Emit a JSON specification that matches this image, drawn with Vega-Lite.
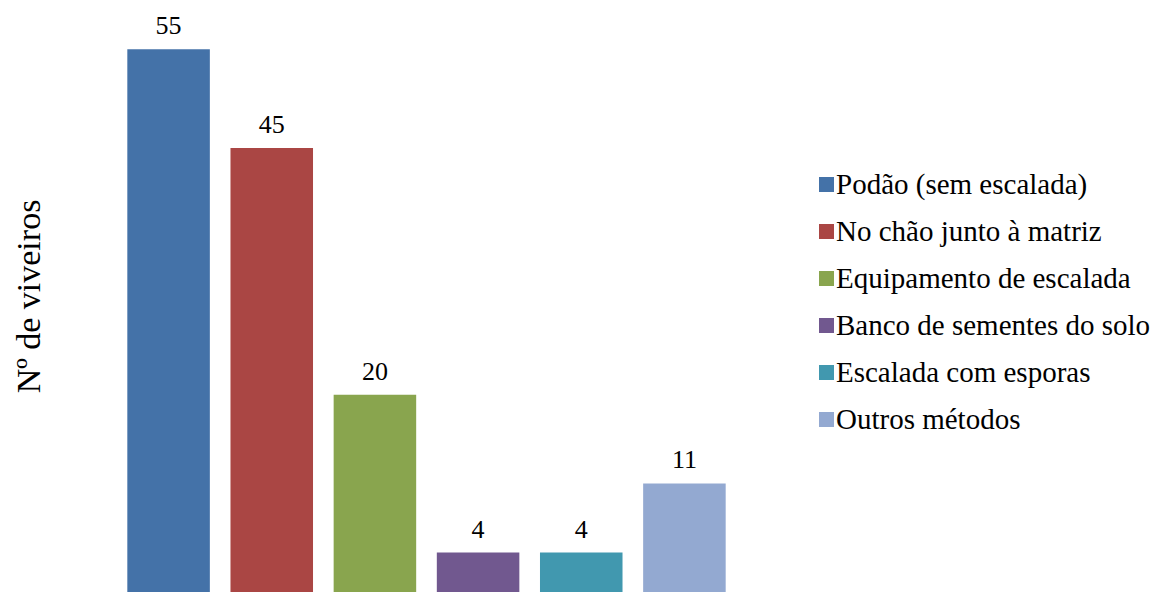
{
  "$schema": "https://vega.github.io/schema/vega-lite/v6.json",
  "width": 619,
  "height": 592,
  "autosize": {"type": "none"},
  "padding": {"left": 117, "top": 0, "right": 421, "bottom": 0},
  "background": "white",
  "config": {"view": {"stroke": null}, "font": "Liberation Serif, Times New Roman, serif"},
  "data": {
    "values": [
      {"metodo": "Podão (sem escalada)", "n": 55},
      {"metodo": "No chão junto à matriz", "n": 45},
      {"metodo": "Equipamento de escalada", "n": 20},
      {"metodo": "Banco de sementes  do solo", "n": 4},
      {"metodo": "Escalada com esporas", "n": 4},
      {"metodo": "Outros métodos", "n": 11}
    ]
  },
  "encoding": {
    "x": {
      "field": "metodo",
      "type": "nominal",
      "sort": null,
      "axis": null,
      "scale": {"paddingInner": 0.2, "paddingOuter": 0.1}
    },
    "y": {
      "field": "n",
      "type": "quantitative",
      "scale": {"domain": [0, 60], "nice": false},
      "axis": {
        "title": "Nº de viveiros",
        "grid": false,
        "domain": false,
        "ticks": false,
        "labels": false,
        "titleFont": "Liberation Serif, Times New Roman, serif",
        "titleFontSize": 34,
        "titleFontWeight": "normal",
        "titleColor": "#000000",
        "titleAngle": 270,
        "titleAlign": "center",
        "titleBaseline": "middle",
        "titleX": -88,
        "titleY": 296
      }
    }
  },
  "layer": [
    {
      "mark": {"type": "bar"},
      "encoding": {
        "color": {
          "field": "metodo",
          "type": "nominal",
          "sort": null,
          "scale": {
            "domain": ["Podão (sem escalada)", "No chão junto à matriz", "Equipamento de escalada", "Banco de sementes  do solo", "Escalada com esporas", "Outros métodos"],
            "range": ["#4472A8", "#AA4644", "#89A54E", "#71588F", "#4198AF", "#93A9D1"]
          },
          "legend": {
            "title": null,
            "orient": "none",
            "legendX": 695,
            "legendY": 170,
            "symbolType": "square",
            "symbolSize": 225,
            "symbolStrokeWidth": 0,
            "symbolOpacity": 1,
            "labelFont": "Liberation Serif, Times New Roman, serif",
            "labelFontSize": 29,
            "labelColor": "#000000",
            "labelOffset": -5,
            "labelLimit": 500,
            "rowPadding": 17,
            "padding": 0
          }
        }
      }
    },
    {
      "mark": {"type": "text", "baseline": "alphabetic", "dy": -15, "fontSize": 26, "font": "Liberation Serif, Times New Roman, serif", "color": "#000000"},
      "encoding": {"text": {"field": "n", "type": "quantitative"}}
    }
  ]
}
